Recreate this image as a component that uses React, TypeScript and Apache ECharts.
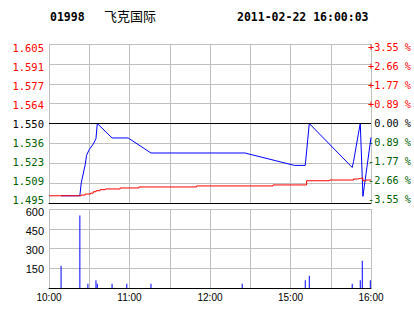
import React, { useEffect, useRef } from "react";
import * as echarts from "echarts";

// Header
const headerTexts = ["01998", "飞克国际", "2011-02-22 16:00:03"];

// Axis labels
const priceLabels = ["1.495", "1.509", "1.523", "1.536", "1.550", "1.564", "1.577", "1.591", "1.605"];
const pctLabels = ["-3.55 %", "-2.66 %", "-1.77 %", "-0.89 %", "0.00 %", "+0.89 %", "+1.77 %", "+2.66 %", "+3.55 %"];
const timeTicks = [0, 60, 120, 180, 240];
const timeLabels = ["10:00", "11:00", "12:00", "15:00", "16:00"];

const priceMin = 1.495;
const priceMax = 1.605;
const prevClose = 1.55;

// Price (minute index since open, price)
const priceTimes = [9, 23, 24, 27, 28, 30, 33, 35, 36, 47, 59, 76, 146, 183, 191, 194, 226, 227, 230.5, 232, 234, 235, 240];
const priceValues = [1.5, 1.5, 1.5088, 1.5215, 1.528, 1.532, 1.5358, 1.5395, 1.55, 1.54, 1.54, 1.5296, 1.5296, 1.521, 1.521, 1.55, 1.5196, 1.5237, 1.5424, 1.55, 1.4996, 1.5065, 1.5404];

// Average price
const avgTimes = [0, 24, 27, 31, 33, 35, 38, 42, 53, 67, 110, 167, 192, 209, 227, 230, 232, 234, 236, 240];
const avgValues = [1.5, 1.5005, 1.5012, 1.5018, 1.5028, 1.5035, 1.5042, 1.5047, 1.5054, 1.5061, 1.5068, 1.5075, 1.5104, 1.5109, 1.5116, 1.512, 1.5123, 1.5104, 1.5109, 1.5109];

// Volume
const volTimes = [9, 23, 29, 35, 36, 47, 58, 76, 144, 191, 194, 226, 232, 233.5, 239.5];
const volValues = [169, 550, 33, 58, 33, 33, 33, 33, 33, 58, 93, 33, 58, 207, 58];

const GRAY = "#c0c0c0";
const GREEN = "#006000";

export default function App() {
  const ref = useRef<HTMLDivElement>(null);
  useEffect(() => {
    if (!ref.current) return;
    const chart = echarts.init(ref.current, undefined, { renderer: "svg" });
    const labelColor = (_v: any, i: number) => (i < 4 ? GREEN : i === 4 ? "#000" : "#ff0000");
    const option: any = {
      animation: false,
      backgroundColor: "#fff",
      graphic: [
        { type: "text", x: 50, y: 17, style: { text: headerTexts[0], font: 'bold 11.5px "DejaVu Sans Mono"', fill: "#000", verticalAlign: "middle" } },
        { type: "text", x: 104, y: 15, style: { text: headerTexts[1], font: '13px "Noto Sans CJK SC"', fill: "#000", verticalAlign: "middle" } },
        { type: "text", x: 237, y: 17, style: { text: headerTexts[2], font: 'bold 11.5px "DejaVu Sans Mono"', fill: "#000", verticalAlign: "middle" } },
      ],
      grid: [
        { left: 49, top: 44, width: 322, height: 159 },
        { left: 49, top: 209, width: 322, height: 79 },
        { left: 49, top: 47.5, width: 322, height: 152 },
        { left: 49, top: 212, width: 322, height: 76 },
      ],
      xAxis: [
        {
          gridIndex: 0, type: "value", min: 0, max: 240, interval: 30,
          axisLine: { show: true, lineStyle: { color: "#000", width: 1 } },
          axisTick: { show: false }, axisLabel: { show: false },
          splitLine: { show: true, lineStyle: { color: GRAY, width: 1 } },
        },
        {
          gridIndex: 1, type: "value", min: 0, max: 240, interval: 30,
          axisLine: { show: true, lineStyle: { color: "#000", width: 1 } },
          axisTick: { show: false },
          axisLabel: {
            show: true, margin: 4, color: "#000", fontSize: 10, fontFamily: "Liberation Sans",
            showMinLabel: true, showMaxLabel: true, hideOverlap: false,
            formatter: (v: number) => {
              const i = timeTicks.indexOf(v);
              return i >= 0 ? timeLabels[i] : "";
            },
          },
          splitLine: { show: true, lineStyle: { color: GRAY, width: 1 } },
        },
        { gridIndex: 2, type: "value", show: false, min: 0, max: 240 },
        { gridIndex: 3, type: "value", show: false, min: 0, max: 240 },
      ],
      yAxis: [
        {
          gridIndex: 0, type: "category", data: priceLabels, boundaryGap: false,
          axisLine: { show: false }, axisTick: { show: false }, axisLabel: { show: false },
          splitLine: { show: true, showMinLine: false, lineStyle: { color: GRAY, width: 1 } },
        },
        { gridIndex: 0, type: "value", show: false, min: priceMin, max: priceMax },
        {
          gridIndex: 2, type: "category", data: priceLabels, boundaryGap: false, position: "left",
          axisLine: { show: false }, axisTick: { show: false }, splitLine: { show: false },
          axisLabel: { show: true, margin: 5, fontSize: 10.5, fontFamily: "DejaVu Sans Mono", color: labelColor, interval: 0 },
        },
        {
          gridIndex: 2, type: "category", data: pctLabels, boundaryGap: false, position: "right",
          axisLine: { show: false }, axisTick: { show: false }, splitLine: { show: false },
          axisLabel: { show: true, margin: 42, align: "right", fontSize: 10.2, fontFamily: "DejaVu Sans Mono", color: labelColor, interval: 0 },
        },
        {
          gridIndex: 1, type: "value", min: 0, max: 600, interval: 150,
          axisLine: { show: false }, axisTick: { show: false }, axisLabel: { show: false },
          splitLine: { show: true, showMinLine: false, lineStyle: { color: GRAY, width: 1 } },
        },
        {
          gridIndex: 3, type: "value", min: 0, max: 600, interval: 150,
          axisLine: { show: false }, axisTick: { show: false }, splitLine: { show: false },
          axisLabel: {
            show: true, margin: 5, fontSize: 11, fontFamily: "Liberation Sans", color: "#000",
            formatter: (v: number) => (v === 0 ? "" : String(v)),
          },
        },
      ],
      series: [
        {
          type: "line", xAxisIndex: 0, yAxisIndex: 1, showSymbol: false, symbol: "none",
          data: priceTimes.map((t, i) => [t, priceValues[i]]),
          lineStyle: { color: "#0000ff", width: 1 }, itemStyle: { color: "#0000ff" },
          markLine: {
            silent: true, symbol: "none", label: { show: false },
            lineStyle: { color: "#000", type: "solid", width: 1 },
            data: [{ yAxis: prevClose }],
          },
          z: 2,
        },
        {
          type: "line", xAxisIndex: 0, yAxisIndex: 1, showSymbol: false, symbol: "none", step: "end",
          data: avgTimes.map((t, i) => [t, avgValues[i]]),
          lineStyle: { color: "#ff0000", width: 1 }, itemStyle: { color: "#ff0000" },
          z: 3,
        },
        {
          type: "bar", xAxisIndex: 1, yAxisIndex: 4, barWidth: 1,
          data: volTimes.map((t, i) => [t, volValues[i]]),
          itemStyle: { color: "#0000ff" },
        },
      ],
    };
    chart.setOption(option);
    return () => chart.dispose();
  }, []);
  return (
    <div
      ref={ref}
      style={{ position: "fixed", left: 0, top: 0, width: 414, height: 314, background: "#fff" }}
    />
  );
}
